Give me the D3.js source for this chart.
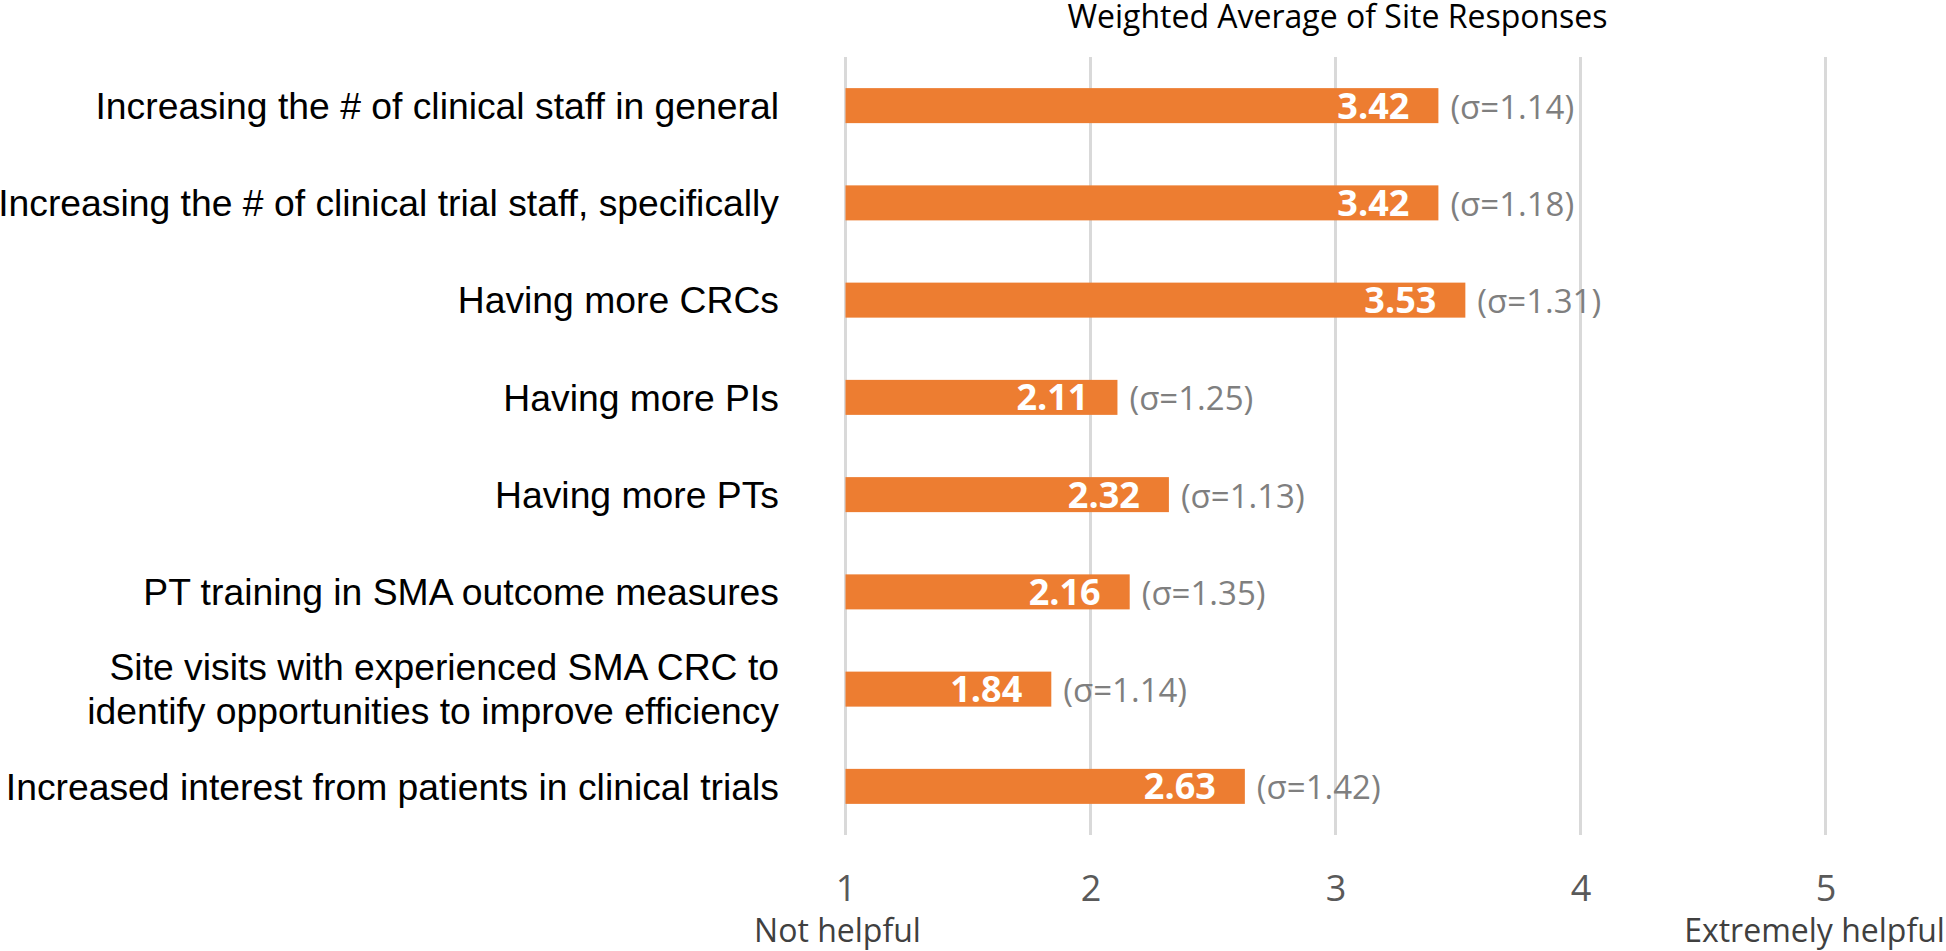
<!DOCTYPE html>
<html>
<head>
<meta charset="utf-8">
<script src="https://cdn.jsdelivr.net/npm/d3@7"></script>
<style>
  html, body { margin: 0; padding: 0; background: #fff; }
  svg { display: block; }
</style>
</head>
<body>
<div id="chart"></div>
<script>
// Chart data
const categories = [
  "Increasing the # of clinical staff in general",
  "Increasing the # of clinical trial staff, specifically",
  "Having more CRCs",
  "Having more PIs",
  "Having more PTs",
  "PT training in SMA outcome measures",
  "Site visits with experienced SMA CRC to\nidentify opportunities to improve efficiency",
  "Increased interest from patients in clinical trials"
];
const averages = [3.42, 3.42, 3.53, 2.11, 2.32, 2.16, 1.84, 2.63];
const sigmas = [1.14, 1.18, 1.31, 1.25, 1.13, 1.35, 1.14, 1.42];
const tickValues = [1, 2, 3, 4, 5];
const scaleEnds = ["Not helpful", "Extremely helpful"];
const chartTitle = "Weighted Average of Site Responses";

const data = categories.map((c, i) => ({ cat: c, avg: averages[i], sd: sigmas[i] }));

// Dimensions
const width = 1946;
const height = 951;
const plotLeft = 845.5, plotRight = 1825.5;
const plotTop = 57, plotBottom = 835;

const barColor = "#ED7D31";
const gridColor = "#d9d9d9";
const labelFont = "'Liberation Sans', Arial, sans-serif";
const numFont = "'Open Sans', 'Noto Sans', sans-serif";

const svg = d3.select("#chart")
  .append("svg")
  .attr("width", width)
  .attr("height", height);

// Scales
const x = d3.scaleLinear().domain([1, 5]).range([plotLeft, plotRight]);
const y = d3.scaleBand()
  .domain(categories)
  .range([plotTop, plotBottom])
  .paddingInner(0.64)
  .paddingOuter(0.32);

// Vertical gridlines
svg.append("g")
  .selectAll("line")
  .data(tickValues)
  .join("line")
  .attr("x1", d => x(d))
  .attr("x2", d => x(d))
  .attr("y1", plotTop)
  .attr("y2", plotBottom)
  .attr("stroke", gridColor)
  .attr("stroke-width", 3);

// Bars
svg.append("g")
  .selectAll("rect")
  .data(data)
  .join("rect")
  .attr("x", x(1))
  .attr("y", d => y(d.cat))
  .attr("width", d => x(d.avg) - x(1))
  .attr("height", y.bandwidth())
  .attr("fill", barColor);

// Value labels inside the bars
svg.append("g")
  .selectAll("text")
  .data(data)
  .join("text")
  .attr("x", d => x(d.avg) - 29)
  .attr("y", d => y(d.cat) + y.bandwidth() / 2 + 13)
  .attr("text-anchor", "end")
  .style("font-family", numFont)
  .style("font-weight", "bold")
  .style("font-size", "36px")
  .style("fill", "#fff")
  .text(d => d.avg.toFixed(2));

// Standard deviation labels after the bars
svg.append("g")
  .selectAll("text")
  .data(data)
  .join("text")
  .attr("x", d => x(d.avg) + 12)
  .attr("y", d => y(d.cat) + y.bandwidth() / 2 + 13)
  .attr("text-anchor", "start")
  .style("font-family", numFont)
  .style("font-size", "33px")
  .style("fill", "#7f7f7f")
  .text(d => `(σ=${d.sd.toFixed(2)})`);

// Category axis (left)
const yAxis = svg.append("g")
  .attr("transform", `translate(${plotLeft},0)`)
  .call(d3.axisLeft(y).tickSize(0).tickPadding(66.5));
yAxis.select(".domain").remove();
yAxis.selectAll("text")
  .style("font-family", labelFont)
  .style("font-size", "37.3px")
  .style("fill", "#000")
  .attr("dy", null)
  .each(function (d) {
    const lines = d.split("\n");
    const t = d3.select(this).text(null);
    const lh = 44;
    lines.forEach((ln, i) => {
      t.append("tspan")
        .attr("x", -66.5)
        .attr("y", 13.3 + (i - (lines.length - 1) / 2) * lh)
        .text(ln);
    });
  });

// Value axis (bottom)
const xAxis = svg.append("g")
  .attr("transform", `translate(0,${plotBottom})`)
  .call(d3.axisBottom(x).tickValues(tickValues).tickFormat(d3.format("d")).tickSize(0).tickPadding(40));
xAxis.select(".domain").remove();
xAxis.selectAll("text")
  .style("font-family", numFont)
  .style("font-size", "36px")
  .style("fill", "#595959");

// Scale end descriptions
svg.append("g")
  .selectAll("text")
  .data(scaleEnds)
  .join("text")
  .attr("x", (d, i) => i === 0 ? x(1) - 8 : x(5) - 11)
  .attr("y", 942)
  .attr("text-anchor", "middle")
  .style("font-family", numFont)
  .style("font-size", "32px")
  .style("fill", "#404040")
  .text(d => d);

// Title
svg.append("text")
  .attr("x", (plotLeft + plotRight) / 2 + 2)
  .attr("y", 28)
  .attr("text-anchor", "middle")
  .style("font-family", numFont)
  .style("font-size", "32px")
  .style("fill", "#000")
  .text(chartTitle);
</script>
</body>
</html>
